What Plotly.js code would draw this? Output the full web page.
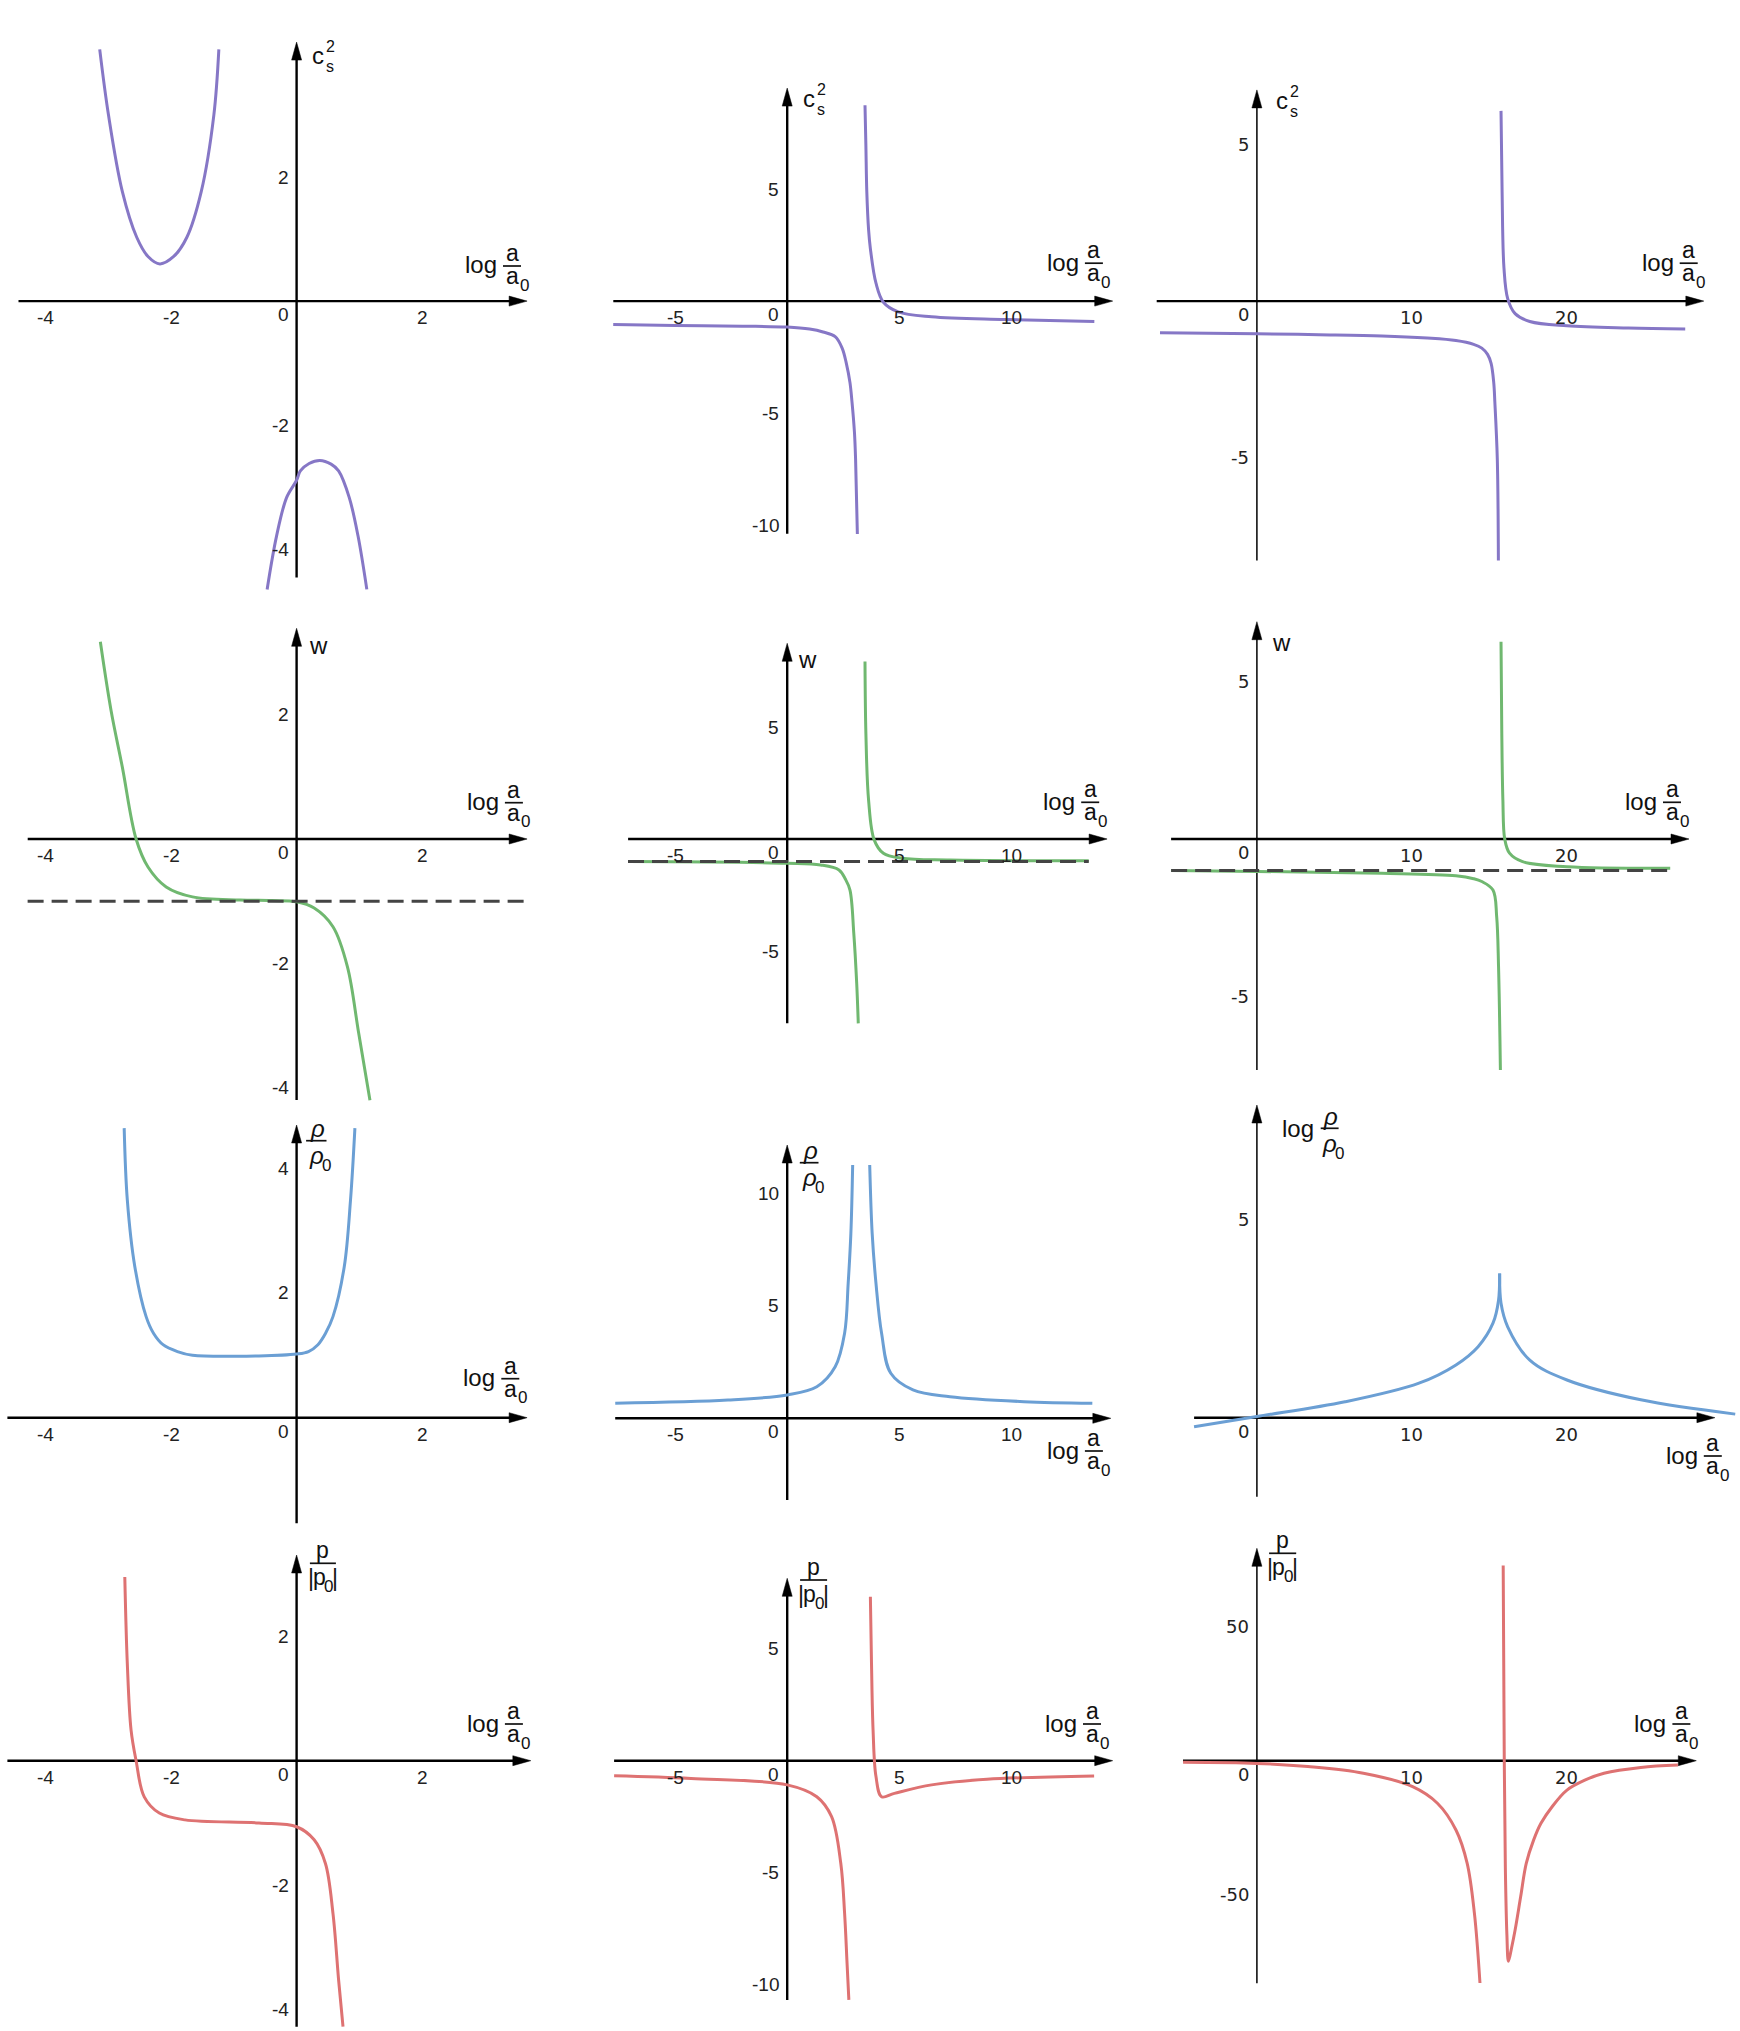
<!DOCTYPE html>
<html><head><meta charset="utf-8">
<script src="https://cdn.plot.ly/plotly-3.0.1.min.js"></script>
<style>html,body{margin:0;padding:0;background:#fff}</style>
</head><body><div id="chart" style="width:1740px;height:2031px"></div>
<script>
// ---------------- data ----------------
// c_s^2
const cs2A_up_x = [-3.14,-3.0,-2.78,-2.55,-2.37,-2.18,-1.96,-1.75,-1.52,-1.32,-1.24];
const cs2A_up_y = [4.06,3.0,1.77,1.03,0.72,0.6,0.72,1.03,1.77,3.0,4.06];
const cs2A_lo_x = [-0.47,-0.32,-0.16,0,0.06,0.2,0.37,0.55,0.67,0.84,0.98,1.12];
const cs2A_lo_y = [-4.65,-3.79,-3.17,-2.89,-2.74,-2.62,-2.57,-2.63,-2.74,-3.17,-3.79,-4.65];
const cs2B_l_x = [-7.76,-5,-2,0,1,1.6,2.14,2.45,2.64,2.8,2.89,3.0,3.05,3.13];
const cs2B_l_y = [-1.05,-1.09,-1.12,-1.16,-1.25,-1.38,-1.59,-2.1,-2.79,-3.64,-4.5,-5.87,-7.06,-10.4];
const cs2B_r_x = [3.47,3.51,3.55,3.63,3.71,3.96,4.29,4.95,6.44,9.73,13.7];
const cs2B_r_y = [8.75,6.95,4.9,3.19,2.34,0.8,-0.05,-0.48,-0.70,-0.82,-0.91];
const cs2C_l_x = [-6.26,0,4,8.08,11,12.86,14,14.53,14.9,15.13,15.3,15.37,15.53,15.6];
const cs2C_l_y = [-1.01,-1.04,-1.07,-1.11,-1.18,-1.26,-1.38,-1.50,-1.7,-1.99,-2.6,-3.21,-5.04,-8.28];
const cs2C_r_x = [15.77,15.84,15.96,16.2,16.68,17.63,20.03,24,27.67];
const cs2C_r_y = [6.07,3.5,1.06,0.08,-0.40,-0.65,-0.79,-0.86,-0.89];
// w
const wA_x = [-3.13,-2.96,-2.78,-2.56,-2.37,-2.08,-1.66,-0.9,-0.4,0,0.28,0.58,0.81,0.99,1.17];
const wA_y = [3.17,2.07,1.16,0,-0.45,-0.77,-0.93,-0.98,-0.99,-1.01,-1.11,-1.41,-2.05,-3.12,-4.2];
const wB_l_x = [-7.1,0,1.49,2.31,2.6,2.8,2.97,3.10,3.17];
const wB_l_y = [-1.01,-1.08,-1.16,-1.38,-1.8,-2.28,-4.21,-6.44,-8.23];
const wB_r_x = [3.47,3.51,3.63,3.88,4.29,5.11,7.26,13.45];
const wB_r_y = [7.92,4.72,1.74,-0.04,-0.64,-0.86,-0.94,-0.97];
const wC_l_x = [-5.54,0,8.08,12.86,14.0,14.53,15.25,15.49,15.61,15.73];
const wC_l_y = [-1.0,-1.03,-1.09,-1.17,-1.26,-1.35,-1.62,-2.47,-4.05,-7.33];
const wC_r_x = [15.77,15.82,15.89,16.01,16.32,17.16,20.03,26.7];
const wC_r_y = [6.26,3.36,1.24,0,-0.45,-0.72,-0.88,-0.93];
const wAsymptote = -1;
const wDashA_x = [-4.29, 3.68];
const wDashB_x = [-7.1, 13.45];
const wDashC_x = [-5.54, 26.7];
// rho
const rhoA_x = [-2.75,-2.70,-2.58,-2.40,-2.28,-2.13,-1.9,-1.66,-0.6,0,0.19,0.34,0.46,0.58,0.76,0.86,0.93];
const rhoA_y = [4.64,3.49,2.42,1.62,1.35,1.17,1.06,1.00,0.99,1.02,1.06,1.17,1.35,1.62,2.42,3.49,4.64];
const rhoB_l_x = [-7.67,-2.64,0,1.32,2.14,2.56,2.72,2.84,2.92];
const rhoB_l_y = [0.67,0.81,1.04,1.40,2.29,3.78,6.0,8.22,11.26];
const rhoB_r_x = [3.68,3.79,3.96,4.21,4.62,5.61,7.26,10.56,13.61];
const rhoB_r_y = [11.26,8.22,6.0,3.78,2.0,1.26,0.96,0.74,0.67];
const logRhoC_l_x = [-4.06,0,5.69,10.47,12.86,14.29,15.25,15.61,15.68];
const logRhoC_l_y = [-0.23,0.03,0.40,0.87,1.33,1.79,2.38,2.96,3.63];
const logRhoC_r_x = [15.68,15.77,16.2,17.63,20.03,24.8,30.9];
const logRhoC_r_y = [3.63,2.88,2.29,1.45,0.95,0.45,0.09];
// p
const pA_x = [-2.74,-2.70,-2.64,-2.56,-2.43,-2.19,-1.78,-0.6,0,0.28,0.46,0.58,0.67,0.74];
const pA_y = [2.95,1.56,0.49,0,-0.58,-0.84,-0.95,-1.0,-1.06,-1.27,-1.65,-2.45,-3.52,-4.27];
const pB_l_x = [-7.72,-4.29,0,1.32,1.98,2.39,2.56,2.67,2.75];
const pB_l_y = [-0.67,-0.79,-1.08,-1.61,-2.50,-4.58,-6.81,-9.04,-10.68];
const pB_r_x = [3.71,3.76,3.83,3.96,4.21,4.78,6.44,8.91,13.69];
const pB_r_y = [7.32,4.35,1.37,-0.71,-1.61,-1.46,-1.08,-0.83,-0.68];
const pC_l_x = [-4.77,0,3.3,6.88,10.06,11.66,12.86,13.58,14.05,14.41];
const pC_l_y = [-0.6,-1.0,-2.2,-4.7,-9.7,-15.9,-25.9,-38.3,-57,-83.1];
const pC_r_x = [15.91,15.98,16.05,16.15,16.25,16.45,16.68,17.04,17.40,17.88,18.35,19.07,20.03,21.22,22.42,24.8,27.2];
const pC_r_y = [73,0,-40,-65,-75,-70,-63.3,-50.8,-38.4,-29.6,-23.4,-17.2,-11.0,-7.2,-4.7,-2.5,-1.6];
// tick labels
const ticksXA = [-4,-2,2];
const ticksXB = [-5,5,10];
const ticksXC = [10,20];
const ticksY_cs2A = [2,-2,-4];
const ticksY_cs2B = [5,-5,-10];
const ticksY_cs2C = [5,-5];
const ticksY_wA = [2,-2,-4];
const ticksY_wB = [5,-5];
const ticksY_wC = [5,-5];
const ticksY_rhoA = [2,4];
const ticksY_rhoB = [5,10];
const ticksY_rhoC = [5];
const ticksY_pA = [2,-2,-4];
const ticksY_pB = [5,-5,-10];
const ticksY_pC = [50,-50];

// ---------------- layout config ----------------
const W = 1740, H = 2031;
const COL = {purple:'#8677c6', green:'#70b870', blue:'#6b9fd4', red:'#de7272'};
const F1 = 'Liberation Sans, Arial, sans-serif';
const F3 = 'DejaVu Sans, sans-serif';
const cols = [[0,575],[575,1150],[1150,1740]];
const rows = [[0,600],[600,1102],[1102,1540],[1540,2031]];

const panels = [
 {r:0,c:0, ox:296.6, oy:301.1, sx:62.7, sy:62.0,  xa:[18.5,527.1],  ya:[577.4,42.1], color:COL.purple, series:[[cs2A_up_x,cs2A_up_y],[cs2A_lo_x,cs2A_lo_y]], xt:ticksXA, yt:ticksY_cs2A, xl:[503.0,266.0], yl:{t:'cs2', x:318.2, y:55.4}},
 {r:0,c:1, ox:787.2, oy:301.1, sx:22.42,sy:22.39, xa:[613.3,1112.7], ya:[533.8,88.1], color:COL.purple, series:[[cs2B_l_x,cs2B_l_y],[cs2B_r_x,cs2B_r_y]], xt:ticksXB, yt:ticksY_cs2B, xl:[1084.9,263.2], yl:{t:'cs2', x:809.4, y:98.7}},
 {r:0,c:2, ox:1256.9,oy:301.1, sx:15.48,sy:31.34, xa:[1156.7,1703.8],ya:[560.6,89.9], color:COL.purple, series:[[cs2C_l_x,cs2C_l_y],[cs2C_r_x,cs2C_r_y]], xt:ticksXC, yt:ticksY_cs2C, xl:[1679.7,263.2], yl:{t:'cs2', x:1282.1, y:100.2}},
 {r:1,c:0, ox:296.6, oy:839,   sx:62.7, sy:62.2,  xa:[27.7,527.1],  ya:[1100,628.3], color:COL.green, series:[[wA_x,wA_y]], dash:wDashA_x, xt:ticksXA, yt:ticksY_wA, xl:[504.9,802.7], yl:{t:'w', x:318.8, y:645}},
 {r:1,c:1, ox:787.2, oy:839,   sx:22.42,sy:22.4,  xa:[628.1,1107.1], ya:[1023.3,643.3], color:COL.green, series:[[wB_l_x,wB_l_y],[wB_r_x,wB_r_y]], dash:wDashB_x, xt:ticksXB, yt:ticksY_wB, xl:[1081.2,802.3], yl:{t:'w', x:807.8, y:659.3}},
 {r:1,c:2, ox:1256.9,oy:839,   sx:15.48,sy:31.5,  xa:[1171.1,1689.0],ya:[1070,621.7], color:COL.green, series:[[wC_l_x,wC_l_y],[wC_r_x,wC_r_y]], dash:wDashC_x, xt:ticksXC, yt:ticksY_wC, xl:[1663.0,802.3], yl:{t:'w', x:1281.3, y:642.7}},
 {r:2,c:0, ox:296.6, oy:1417.7,sx:62.7, sy:62.4,  xa:[7.4,527.1],   ya:[1523.3,1125], color:COL.blue, series:[[rhoA_x,rhoA_y]], xt:ticksXA, yt:ticksY_rhoA, xl:[501.3,1378.7], yl:{t:'rho', b0:307.1, b1:325.5, y:1140.7}},
 {r:2,c:1, ox:787.2, oy:1418.3,sx:22.42,sy:22.5,  xa:[615.2,1110.8], ya:[1500,1145], color:COL.blue, series:[[rhoB_l_x,rhoB_l_y],[rhoB_r_x,rhoB_r_y]], xt:ticksXB, yt:ticksY_rhoB, xl:[1084.9,1451], yl:{t:'rho', b0:800.8, b1:817.5, y:1162.7}},
 {r:2,c:2, ox:1256.9,oy:1417.7,sx:15.48,sy:39.7,  xa:[1194.1,1714.9],ya:[1496.7,1105], color:COL.blue, series:[[logRhoC_l_x,logRhoC_l_y],[logRhoC_r_x,logRhoC_r_y]], xt:ticksXC, yt:ticksY_rhoC, xl:[1703.8,1456], yl:{t:'logrho', b0:1321.7, b1:1337.6, y:1128.3}},
 {r:3,c:0, ox:296.6, oy:1760.7,sx:62.7, sy:62.3,  xa:[7.4,530.8],   ya:[2026.7,1555], color:COL.red, series:[[pA_x,pA_y]], xt:ticksXA, yt:ticksY_pA, xl:[504.9,1724], yl:{t:'p', b0:309.9, b1:335.9, y:1563.3}},
 {r:3,c:1, ox:787.2, oy:1760.7,sx:22.42,sy:22.4,  xa:[614.1,1112.7], ya:[2000,1578.3], color:COL.red, series:[[pB_l_x,pB_l_y],[pB_r_x,pB_r_y]], xt:ticksXB, yt:ticksY_pB, xl:[1083.0,1724], yl:{t:'p', b0:800.1, b1:827.1, y:1580}},
 {r:3,c:2, ox:1256.9,oy:1760.7,sx:15.48,sy:2.675, xa:[1183.0,1696.3],ya:[1983.3,1548.3], color:COL.red, series:[[pC_l_x,pC_l_y],[pC_r_x,pC_r_y]], xt:ticksXC, yt:ticksY_pC, xl:[1672.4,1724], yl:{t:'p', b0:1269.1, b1:1296.2, y:1553.3}}
];

const layout = {width:W, height:H, margin:{l:0,r:0,t:0,b:0}, paper_bgcolor:'#ffffff', plot_bgcolor:'rgba(0,0,0,0)',
  showlegend:false, shapes:[], annotations:[], hovermode:false};
const traces = [];

function txt(px, py, text, size, opts){
  layout.annotations.push(Object.assign({xref:'paper', yref:'paper', x:px/W, y:1-py/H, text:text, showarrow:false,
    xanchor:'center', yanchor:'middle', borderpad:0, font:{family:F1, size:size, color:'#111'}}, opts||{}));
}
function bar(x0, x1, y, w){
  layout.shapes.push({type:'line', xref:'paper', yref:'paper', x0:x0/W, x1:x1/W, y0:1-y/H, y1:1-y/H, line:{color:'#111', width:w||1.7}});
}
function xLabel(bx, by){
  const bw = 18, cx = bx + bw/2;
  txt(bx-5, by-1, 'log', 24, {xanchor:'right'});
  bar(bx, bx+bw, by);
  txt(cx, by-13, 'a', 23);
  txt(cx, by+10, 'a', 23);
  txt(cx+12, by+19, '0', 17);
}

panels.forEach((p, i) => {
  const n = i + 1, s = n === 1 ? '' : String(n);
  const xref = 'x' + s, yref = 'y' + s;
  const [L, R] = cols[p.c], [T, B] = rows[p.r];
  const xr = px => (px - p.ox) / p.sx;
  const yr = py => (p.oy - py) / p.sy;
  layout['xaxis' + s] = {domain:[L/W, R/W], range:[xr(L), xr(R)], visible:false, fixedrange:true, anchor:yref};
  layout['yaxis' + s] = {domain:[1-B/H, 1-T/H], range:[yr(B), yr(T)], visible:false, fixedrange:true, anchor:xref};

  p.series.forEach(([xs, ys]) => traces.push({type:'scatter', mode:'lines', x:xs, y:ys, xaxis:xref, yaxis:yref,
    line:{color:p.color, width:3, shape:'spline', smoothing:1}, hoverinfo:'skip'}));
  if (p.dash) traces.push({type:'scatter', mode:'lines', x:p.dash, y:[wAsymptote, wAsymptote], xaxis:xref, yaxis:yref,
    line:{color:'#444', width:3, dash:'16px,8px'}, hoverinfo:'skip'});

  // axes through the origin with arrowheads
  const AL = 18, AH = 5;
  const hw = 2.4, vw = p.c === 2 ? 1.5 : 2.4;
  const xs0 = xr(p.xa[0]), xt = xr(p.xa[1]);
  layout.shapes.push({type:'line', layer:'below', xref, yref, x0:xs0, y0:0, x1:xt - (AL-3)/p.sx, y1:0, line:{color:'#000', width:hw}});
  layout.shapes.push({type:'path', layer:'below', xref, yref, fillcolor:'#000', line:{color:'#000', width:0.5},
    path:`M${xt},0 L${xt-AL/p.sx},${AH/p.sy} L${xt-AL/p.sx},${-AH/p.sy} Z`});
  const ys0 = yr(p.ya[0]), yt = yr(p.ya[1]);
  layout.shapes.push({type:'line', layer:'below', xref, yref, x0:0, y0:ys0, x1:0, y1:yt - (AL-3)/p.sy, line:{color:'#000', width:vw}});
  layout.shapes.push({type:'path', layer:'below', xref, yref, fillcolor:'#000', line:{color:'#000', width:0.5},
    path:`M0,${yt} L${AH/p.sx},${yt-AL/p.sy} L${-AH/p.sx},${yt-AL/p.sy} Z`});

  // tick labels
  const tf = p.c === 2 ? {family:F3, size:18, color:'#222'} : {family:F1, size:19, color:'#222'};
  p.xt.forEach(t => layout.annotations.push({xref, yref, x:t, y:0, text:String(t), showarrow:false,
    xanchor:'center', yanchor:'top', yshift:-4, font:tf}));
  layout.annotations.push({xref, yref, x:0, y:0, text:'0', showarrow:false, xanchor:'right', yanchor:'top', xshift:-6, yshift:-1, font:tf});
  p.yt.forEach(t => layout.annotations.push({xref, yref, x:0, y:t, text:String(t), showarrow:false,
    xanchor:'right', yanchor:'middle', xshift:-6, font:tf}));

  // axis labels
  xLabel(p.xl[0], p.xl[1]);
  const yl = p.yl;
  if (yl.t === 'cs2') {
    txt(yl.x, yl.y, 'c', 24);
    txt(yl.x + 12.5, yl.y - 9, '2', 16);
    txt(yl.x + 12, yl.y + 11, 's', 16);
  } else if (yl.t === 'w') {
    txt(yl.x, yl.y, 'w', 24);
  } else if (yl.t === 'rho' || yl.t === 'logrho') {
    const cx = (yl.b0 + yl.b1) / 2;
    if (yl.t === 'logrho') txt(yl.b0 - 7, yl.y, 'log', 24, {xanchor:'right'});
    bar(yl.b0 - 1, yl.b1 + 1, yl.y);
    txt(cx + 1, yl.y - 12, '<i>ρ</i>', 24);
    txt(cx, yl.y + 15, '<i>ρ</i>', 24);
    txt(cx + 10, yl.y + 25, '0', 17);
  } else if (yl.t === 'p') {
    const cx = (yl.b0 + yl.b1) / 2;
    bar(yl.b0, yl.b1, yl.y);
    txt(cx, yl.y - 13, 'p', 23);
    txt(yl.b0 + 1, yl.y + 15, '|', 23);
    txt(yl.b0 + 9.5, yl.y + 14, 'p', 23);
    txt(yl.b0 + 19, yl.y + 23, '0', 17);
    txt(yl.b1 - 1, yl.y + 15, '|', 23);
  }
});

Plotly.newPlot('chart', traces, layout, {displayModeBar:false, staticPlot:true});
</script>
</body></html>
